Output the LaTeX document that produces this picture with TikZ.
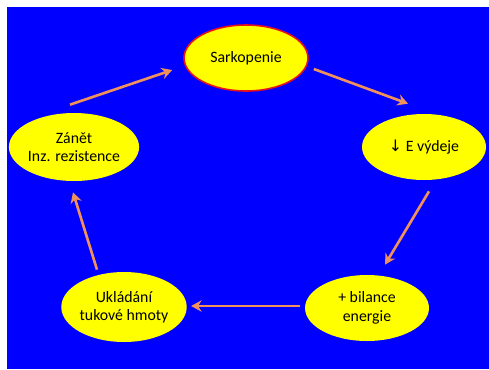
\documentclass[tikz,border=0pt]{standalone}
\usepackage{fontspec}
\setmainfont{Carlito}
\newfontfamily\symfont{DejaVu Sans}
\usepackage{xcolor}
\usepackage{tikz}
\usetikzlibrary{arrows.meta,shapes.geometric}
\definecolor{pozadi}{HTML}{0000FF}
\definecolor{zluta}{HTML}{FFFF00}
\definecolor{sipka}{HTML}{F0905A}
\definecolor{okraj}{HTML}{E8101A}
\tikzset{
  bublina/.style={ellipse, fill=zluta, inner sep=0pt, align=center,
                  minimum width=2.48cm, minimum height=1.32cm,
                  font=\fontsize{9}{10.5}\selectfont},
  arr/.style={-{Stealth[length=6pt,width=6.5pt,inset=2pt]}, line width=1.5pt, draw=sipka},
}
\begin{document}
\begin{tikzpicture}[x=0.02cm,y=-0.02cm]
    \useasboundingbox (0,0) rectangle (489,369);
    \fill[pozadi] (7,7) rectangle (489,369);
    \node[bublina, draw=okraj, line width=0.9pt] (sark) at (246,58) {Sarkopenie};
    \node[bublina] (vydej) at (424,147) {{\symfont\small↓} E výdeje};
    \node[bublina, minimum height=1.36cm, minimum width=2.4cm] (zanet) at (74,147) {Zánět\\Inz. rezistence};
    \node[bublina] (bil) at (367,308) {+ bilance\\energie};
    \node[bublina, minimum height=1.4cm] (ukl) at (124,307) {Ukládání\\tukové hmoty};
    \draw[arr] ([shift={(-4,-8)}]zanet.north) -- ([shift={(-11,12)}]sark.west);
    \draw[arr] ([shift={(5,11)}]sark.east) -- ([shift={(-16,-10)}]vydej.north);
    \draw[arr] ([shift={(5,11)}]vydej.south) -- ([shift={(18,-10)}]bil.north);
    \draw[arr] ([shift={(-5,-2)}]bil.west) -- ([shift={(4,-1)}]ukl.east);
    \draw[arr] ([shift={(-27,-2)}]ukl.north) -- ([shift={(-1,11)}]zanet.south);
  \end{tikzpicture}
\end{document}
